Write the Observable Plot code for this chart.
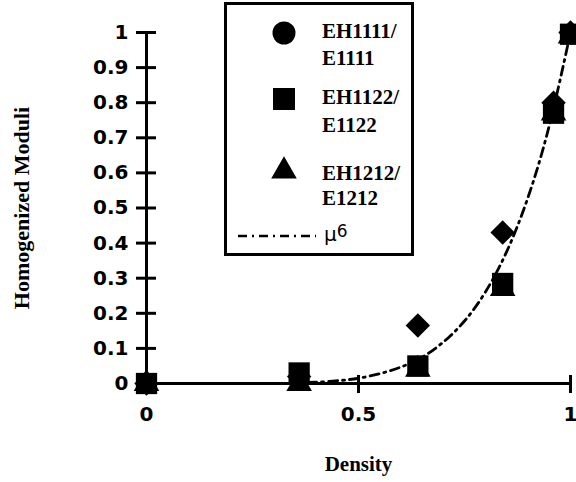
<!DOCTYPE html>
<html>
<head>
<meta charset="utf-8">
<script src="https://cdn.jsdelivr.net/npm/d3@7"></script>
<script src="https://cdn.jsdelivr.net/npm/@observablehq/plot@0.6"></script>
<style>
  html, body { margin: 0; padding: 0; background: #fff; }
  #wrap { position: relative; width: 576px; height: 482px; overflow: hidden; }
  #legend { position: absolute; left: 224px; top: 2px; width: 190px; height: 254px;
            box-sizing: border-box; border: 3px solid #000; background: #fff; }
  #legend svg { position: absolute; left: -3px; top: -3px; }
</style>
</head>
<body>
<div id="wrap"></div>
<script>
// ---- data ----
const density = [0, 0.36, 0.64, 0.84, 0.96, 1.0];
const eh1111 = [0, 0.02, 0.165, 0.43, 0.80, 1.0];
const eh1122 = [0, 0.03, 0.05, 0.285, 0.77, 0.995];
const eh1212 = [0, 0.0, 0.04, 0.27, 0.77, 0.99];

const curveDensity = [0.38, 0.42, 0.46, 0.5, 0.55, 0.6, 0.65, 0.7, 0.75, 0.8, 0.85, 0.9, 0.95, 1.0];
const curveMu6 = [0.003, 0.005, 0.009, 0.015, 0.028, 0.047, 0.075, 0.118, 0.178, 0.262, 0.377, 0.531, 0.735, 1.0];

const yTicks = [0, 0.1, 0.2, 0.3, 0.4, 0.5, 0.6, 0.7, 0.8, 0.9, 1];
const yTickLabels = ["0", "0.1", "0.2", "0.3", "0.4", "0.5", "0.6", "0.7", "0.8", "0.9", "1"];
const xTicks = [0, 0.5, 1];
const xTickLabels = ["0", "0.5", "1"];

const seriesNames = ["EH1111/", "EH1122/", "EH1212/"];
const seriesNames2 = ["E1111", "E1122", "E1212"];
const curveName = "\u03bc";
const curveExp = "6";
const xLabel = "Density";
const yLabel = "Homogenized Moduli";

// ---- tables ----
const rows = (ys) => density.map((d, i) => ({x: d, y: ys[i]}));
const curveRows = curveDensity.map((d, i) => ({x: d, y: curveMu6[i]}));

const W = 576, H = 482;
const mL = 146, mR = 6, mT = 32, mB = 99;
const fw = W - mL - mR, fh = H - mT - mB;
const sans = "'DejaVu Sans', sans-serif";
const serif = "'Liberation Serif', 'Times New Roman', serif";

const chart = Plot.plot({
  width: W, height: H,
  marginLeft: mL, marginRight: mR, marginTop: mT, marginBottom: mB,
  x: {domain: [0, 1], axis: null},
  y: {domain: [0, 1], axis: null},
  style: {background: "#fff", color: "#000", overflow: "visible"},
  marks: [
    Plot.ruleY([0], {stroke: "#000", strokeWidth: 3}),
    Plot.ruleX([0], {stroke: "#000", strokeWidth: 3}),
    Plot.tickY(yTicks, {y: d => d, stroke: "#000", strokeWidth: 3, insetRight: fw - 20, dx: -10}),
    Plot.tickX(xTicks, {x: d => d, stroke: "#000", strokeWidth: 3, insetTop: fh - 18, dy: 10}),
    Plot.text(yTicks, {y: d => d, frameAnchor: "left", text: (d, i) => yTickLabels[i], textAnchor: "end", dx: -18,
      fontFamily: sans, fontSize: 20, fontWeight: "bold", fill: "#000", ariaLabel: "yticklabels"}),
    Plot.text(xTicks, {x: d => d, frameAnchor: "bottom", text: (d, i) => xTickLabels[i], dy: 37,
      fontFamily: sans, fontSize: 20, fontWeight: "bold", fill: "#000", ariaLabel: "xticklabels"}),
    Plot.text([xLabel], {frameAnchor: "bottom", text: d => d, dy: 87, fontFamily: serif, fontSize: 21, fontWeight: "bold", fill: "#000"}),
    Plot.text([yLabel], {frameAnchor: "left", text: d => d, textAnchor: "middle", dx: -125, rotate: -90, fontFamily: serif, fontSize: 22, fontWeight: "bold", fill: "#000", ariaLabel: "ylabel"}),
    Plot.line(curveRows, {x: "x", y: "y", stroke: "#000", strokeWidth: 2.8, strokeDasharray: "9,5,2,5", curve: "natural"}),
    Plot.dot(rows(eh1111), {x: "x", y: "y", symbol: "diamond2", r: 11, fill: "#000", stroke: "none"}),
    Plot.dot(rows(eh1122), {x: "x", y: "y", symbol: "square", r: 12, fill: "#000", stroke: "none"}),
    Plot.dot(rows(eh1212), {x: "x", y: "y", symbol: "triangle", r: 9.5, fill: "#000", stroke: "none"})
  ]
});

const wrap = document.getElementById("wrap");
wrap.appendChild(chart);
const xl = chart.querySelector('g[aria-label="xticklabels"]');
if (xl) xl.style.letterSpacing = "3px";
const yl = chart.querySelector('g[aria-label="yticklabels"]');
if (yl) yl.style.letterSpacing = "2.5px";
const ylab = chart.querySelector('g[aria-label="ylabel"]');
if (ylab) ylab.style.letterSpacing = "0.4px";

// ---- legend (overlay box inside the plot) ----
const leg = document.createElement("div");
leg.id = "legend";
wrap.appendChild(leg);
const ls = d3.select(leg).append("svg").attr("width", 190).attr("height", 254);
const symbols = [d3.symbolCircle, d3.symbolSquare, d3.symbolTriangle];
const symSize = [Math.PI * 11.5 * 11.5, 22 * 22, Math.PI * 9.5 * 9.5];
const symY = [31, 97, 169];
const textY = [[36, 63], [102, 130], [178, 203]];
seriesNames.forEach((n, i) => {
  ls.append("path").attr("d", d3.symbol(symbols[i], symSize[i])()).attr("transform", `translate(60,${symY[i]})`).attr("fill", "#000");
  const t = ls.append("text").attr("font-family", serif).attr("font-size", 21).attr("font-weight", "bold").attr("fill", "#000");
  t.append("tspan").attr("x", 98).attr("y", textY[i][0]).text(n);
  t.append("tspan").attr("x", 98).attr("y", textY[i][1]).text(seriesNames2[i]);
});
ls.append("line").attr("x1", 14).attr("x2", 92).attr("y1", 234).attr("y2", 234)
  .attr("stroke", "#000").attr("stroke-width", 2.5).attr("stroke-dasharray", "9,5,2,5");
const mu = ls.append("text").attr("x", 100).attr("y", 239).attr("font-family", sans).attr("font-size", 20).attr("fill", "#000");
mu.append("tspan").text(curveName);
mu.append("tspan").attr("dy", -4).attr("font-size", 17).text(curveExp);
</script>
</body>
</html>
